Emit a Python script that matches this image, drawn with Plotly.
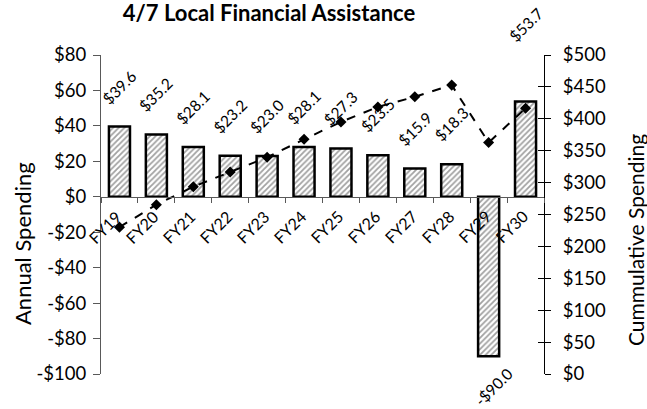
import plotly.graph_objects as go

# ---- data ----
categories = ["FY19", "FY20", "FY21", "FY22", "FY23", "FY24", "FY25", "FY26", "FY27", "FY28", "FY29", "FY30"]
annual = [39.6, 35.2, 28.1, 23.2, 23.0, 28.1, 27.3, 23.5, 15.9, 18.3, -90.0, 53.7]
cumulative = [230.2, 265.4, 293.5, 316.7, 339.7, 367.8, 395.1, 418.6, 434.5, 452.8, 362.8, 416.5]
left_tickvals = [-100, -80, -60, -40, -20, 0, 20, 40, 60, 80]
left_ticktext = ["-$100", "-$80", "-$60", "-$40", "-$20", "$0", "$20", "$40", "$60", "$80"]
right_tickvals = [0, 50, 100, 150, 200, 250, 300, 350, 400, 450, 500]
right_ticktext = ["$0", "$50", "$100", "$150", "$200", "$250", "$300", "$350", "$400", "$450", "$500"]

FONT = "Lato"
W, H = 647, 409
L, R, T, B = 101, 103, 55, 35

fig = go.Figure()

fig.add_trace(go.Bar(
    x=categories, y=annual, yaxis="y",
    marker=dict(color="white",
                line=dict(color="black", width=2.5),
                pattern=dict(shape="/", fgcolor="#444444", bgcolor="white", size=4, solidity=0.45)),
    width=0.57, showlegend=False, hoverinfo="skip",
))

fig.add_trace(go.Scatter(
    x=categories, y=cumulative, yaxis="y2", mode="lines+markers",
    line=dict(color="black", width=2, dash="dash"),
    marker=dict(symbol="diamond", size=8.5, color="black"),
    showlegend=False,
))

annotations = []
# category labels, rotated, hanging below the zero line
for c in categories:
    annotations.append(dict(x=c, y=0, xref="x", yref="y", text=c, showarrow=False,
                            textangle=-45, xshift=-14, yshift=-30, xanchor="center", yanchor="middle",
                            font=dict(family=FONT, size=16, color="black")))
# value labels
for i, (c, v) in enumerate(zip(categories, annual)):
    shift = 40 if v >= 0 else -31
    xs = 0 if v >= 0 else 5
    if i == len(categories) - 1:
        shift = 77
    txt = ("$%.1f" % v) if v >= 0 else ("-$%.1f" % abs(v))
    annotations.append(dict(x=c, y=v, xref="x", yref="y", text=txt, showarrow=False,
                            textangle=-45, xshift=xs, yshift=shift, xanchor="center", yanchor="middle",
                            font=dict(family=FONT, size=15.5, color="black")))

pw = W - L - R
ph = H - T - B
annotations.append(dict(x=(22 - L) / pw, y=(H - B - 244) / ph, xref="paper", yref="paper",
                        text="Annual Spending", textangle=-90, showarrow=False,
                        xanchor="center", yanchor="middle",
                        font=dict(family=FONT, size=22, color="black")))
annotations.append(dict(x=(635 - L) / pw, y=(H - B - 240) / ph, xref="paper", yref="paper",
                        text="Cummulative Spending", textangle=-90, showarrow=False,
                        xanchor="center", yanchor="middle",
                        font=dict(family=FONT, size=21, color="black")))

axis_col = "#595959"
fig.update_layout(
    width=W, height=H,
    margin=dict(l=L, r=R, t=T, b=B, autoexpand=False),
    paper_bgcolor="white", plot_bgcolor="white",
    title=dict(text="<b>4/7 Local Financial Assistance</b>", x=269 / W, xanchor="center",
               xref="container", yref="container", y=1 - 13 / H, yanchor="middle",
               font=dict(family=FONT, size=22, color="black")),
    font=dict(family=FONT, size=16, color="black"),
    bargap=0.43,
    xaxis=dict(anchor="free", position=100 / 180, range=[-0.5, len(categories) - 0.5],
               showline=True, linecolor=axis_col, linewidth=1,
               ticks="outside", tickson="boundaries", ticklen=5, tickcolor=axis_col,
               showticklabels=False, showgrid=False, zeroline=False, automargin=False),
    yaxis=dict(range=[-100, 80], tickvals=left_tickvals, ticktext=left_ticktext,
               showline=True, linecolor=axis_col, linewidth=1, ticks="outside", ticklen=7,
               tickcolor=axis_col, showgrid=False, zeroline=False, automargin=False,
               ticklabelstandoff=3, tickfont=dict(family=FONT, size=18.5)),
    yaxis2=dict(range=[0, 500], tickvals=right_tickvals, ticktext=right_ticktext,
                overlaying="y", side="right", anchor="x", automargin=False,
                showline=True, linecolor="black", linewidth=1, ticks="outside", ticklen=6,
                tickcolor="black", showgrid=False, zeroline=False,
                ticklabelstandoff=8, tickfont=dict(family=FONT, size=18.5)),
    yaxis3=dict(range=[0, 500], tickvals=right_tickvals, overlaying="y", side="right", anchor="x",
                showticklabels=False, ticks="inside", ticklen=6, tickcolor="black", automargin=False,
                showline=False, showgrid=False, zeroline=False),
    annotations=annotations,
)

# invisible trace to activate yaxis3
fig.add_trace(go.Scatter(x=[categories[0]], y=[0], yaxis="y3", mode="markers",
                         marker=dict(opacity=0), showlegend=False, hoverinfo="skip"))

fig.write_html("out.html", config={"displayModeBar": False},
               post_script="document.body.style.margin='0px';document.body.style.overflow='hidden';")
